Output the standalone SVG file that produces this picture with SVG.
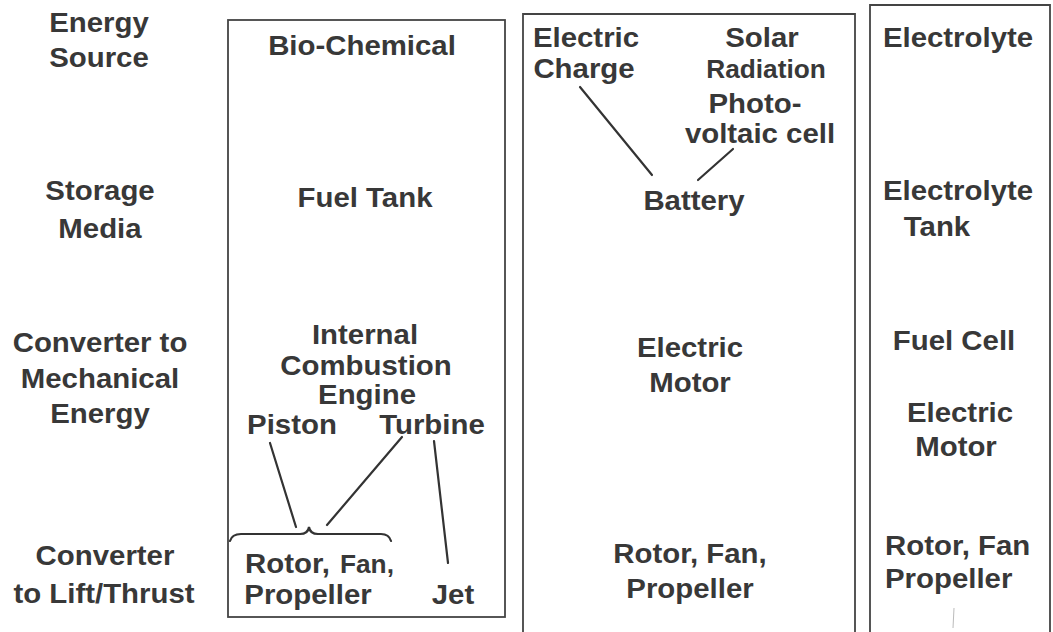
<svg xmlns="http://www.w3.org/2000/svg" width="1053" height="632" viewBox="0 0 1053 632">
<style>
text{font-family:"Liberation Sans",Arial,sans-serif;font-weight:bold;font-size:28px;fill:#383838;text-anchor:middle}
.s{font-size:25px}
.l{text-anchor:start}
.box{fill:none;stroke:#444;stroke-width:1.8}
.ln{fill:none;stroke:#333;stroke-width:2.2;stroke-linecap:round}
</style>
<rect width="1053" height="632" fill="#fff"/>
<g id="row-labels">
<text transform="translate(99 32) scale(1.05 1)">Energy</text>
<text transform="translate(99 67) scale(1.05 1)">Source</text>
<text transform="translate(100 200) scale(1.05 1)">Storage</text>
<text transform="translate(100 238) scale(1.05 1)">Media</text>
<text transform="translate(100 352) scale(1.05 1)">Converter to</text>
<text transform="translate(100 388) scale(1.05 1)">Mechanical</text>
<text transform="translate(100 423) scale(1.05 1)">Energy</text>
<text transform="translate(105 565) scale(1.05 1)">Converter</text>
<text transform="translate(104 603) scale(1.05 1)">to Lift/Thrust</text>
</g>
<g id="col-biochemical">
<rect class="box" x="228" y="20" width="277" height="597"/>
<text transform="translate(362 55) scale(1.05 1)">Bio-Chemical</text>
<text transform="translate(365 207) scale(1.05 1)">Fuel Tank</text>
<text transform="translate(365 344) scale(1.05 1)">Internal</text>
<text transform="translate(366 375) scale(1.05 1)">Combustion</text>
<text transform="translate(367 404) scale(1.05 1)">Engine</text>
<text transform="translate(292 434) scale(1.05 1)">Piston</text>
<text transform="translate(432 434) scale(1.05 1)">Turbine</text>
<text class="l" transform="translate(245 573) scale(1.05 1)">Rotor,</text>
<text class="s l" transform="translate(340 573) scale(1.05 1)">Fan,</text>
<text transform="translate(308 604) scale(1.05 1)">Propeller</text>
<text transform="translate(453 604) scale(1.05 1)">Jet</text>
</g>
<g id="col-electric">
<path class="box" d="M523 634 V14 H855 V634"/>
<text transform="translate(586 47) scale(1.05 1)">Electric</text>
<text transform="translate(584 78) scale(1.05 1)">Charge</text>
<text transform="translate(762 47) scale(1.05 1)">Solar</text>
<text class="s" transform="translate(766 78) scale(1.05 1)">Radiation</text>
<text transform="translate(755 113) scale(1.05 1)">Photo-</text>
<text transform="translate(760 143) scale(1.05 1)">voltaic cell</text>
<text transform="translate(694 210) scale(1.05 1)">Battery</text>
<text transform="translate(690 357) scale(1.05 1)">Electric</text>
<text transform="translate(690 392) scale(1.05 1)">Motor</text>
<text transform="translate(690 563) scale(1.05 1)">Rotor, Fan,</text>
<text transform="translate(690 598) scale(1.05 1)">Propeller</text>
</g>
<g id="col-fuelcell">
<path class="box" d="M870 634 V5 H1050 V634"/>
<text transform="translate(958 47) scale(1.05 1)">Electrolyte</text>
<text transform="translate(958 200) scale(1.05 1)">Electrolyte</text>
<text transform="translate(937 236) scale(1.05 1)">Tank</text>
<text transform="translate(954 350) scale(1.05 1)">Fuel Cell</text>
<text transform="translate(960 422) scale(1.05 1)">Electric</text>
<text transform="translate(956 456) scale(1.05 1)">Motor</text>
<text class="l" transform="translate(885 555) scale(1.05 1)">Rotor, Fan</text>
<text class="l" transform="translate(885 588) scale(1.05 1)">Propeller</text>
<line x1="954" y1="608" x2="953" y2="628" stroke="#bbb" stroke-width="1"/>
</g>
<g id="connectors">
<line class="ln" x1="270" y1="443" x2="296" y2="527"/>
<line class="ln" x1="402" y1="437" x2="327" y2="525"/>
<line class="ln" x1="434" y1="441" x2="448" y2="563"/>
<path class="ln" d="M230 541 Q232 534 241 534 L300 534 Q308 534 309 527 Q310 534 318 534 L381 534 Q389 534 391 541"/>
<line class="ln" x1="580" y1="87" x2="652" y2="175"/>
<line class="ln" x1="733" y1="149" x2="698" y2="180"/>
</g>
</svg>
